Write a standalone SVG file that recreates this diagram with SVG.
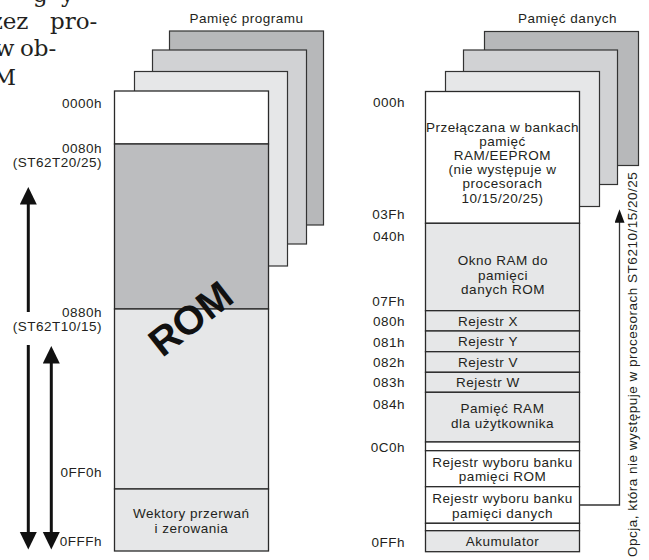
<svg xmlns="http://www.w3.org/2000/svg" width="649" height="560" viewBox="0 0 649 560">
  <style>
    .t { font-family: "Liberation Sans", Arial, sans-serif; font-size: 13.5px; letter-spacing: 0.5px; fill: #231f20; }
    .e { text-anchor: end; }
    .m { text-anchor: middle; }
    .body { font-family: "DejaVu Serif", "Liberation Serif", serif; font-size: 23px; fill: #231f20; }
    .l3 { fill: #b7b8ba; stroke: #333; stroke-width: 1.2; }
    .l2 { fill: #d1d2d4; stroke: #333; stroke-width: 1.2; }
    .l1 { fill: #e6e7e8; stroke: #333; stroke-width: 1.2; }
    .w { fill: #ffffff; stroke: #2a2a2a; stroke-width: 1.3; }
    .g { fill: #e6e7e8; stroke: #2a2a2a; stroke-width: 1.3; }
    .d { fill: #bcbdbf; stroke: #2a2a2a; stroke-width: 1.3; }
    .thick { fill: none; stroke: #111; stroke-width: 3; }
    .thin { fill: none; stroke: #333; stroke-width: 1.3; }
  </style>
  <defs>
    <marker id="bigHead" markerUnits="userSpaceOnUse" markerWidth="18" markerHeight="18" refX="1" refY="8.5" orient="auto-start-reverse">
      <path d="M0,0 L17.5,8.5 L0,17 z" fill="#111"/>
    </marker>
    <marker id="smallHead" markerUnits="userSpaceOnUse" markerWidth="14" markerHeight="11" refX="1" refY="5" orient="auto">
      <path d="M0,0 L13.5,5 L0,10 z" fill="#111"/>
    </marker>
  </defs>

  <rect width="649" height="560" fill="#ffffff"/>

  <!-- running text of the page, cut at the edge -->
  <g id="page-text">
    <text class="body" x="33" y="2">g</text>
    <text class="body" x="61" y="2">y</text>
    <text class="body e" x="28.5" y="28.5">zez</text>
    <text class="body" x="50" y="28.5">pro-</text>
    <text class="body e" x="14.5" y="56">w</text>
    <text class="body" x="20" y="56">ob-</text>
    <text class="body e" x="16" y="85">M</text>
  </g>

  <!-- program memory: stacked banks -->
  <g id="program-memory">
    <text class="t m" x="246.5" y="22.7">Pamięć programu</text>
    <rect class="l3" x="169.5" y="31" width="154" height="194"/>
    <rect class="l2" x="152.5" y="50" width="154" height="194"/>
    <rect class="l1" x="134.5" y="71.5" width="153" height="194.5"/>
    <rect class="w" x="114.5" y="91" width="154" height="53"/>
    <rect class="d" x="114.5" y="144" width="154" height="165"/>
    <rect class="g" x="114.5" y="309" width="154" height="180"/>
    <text font-family="Liberation Sans, Arial, sans-serif" font-size="40" font-weight="bold" fill="#111" text-anchor="middle" transform="translate(190.5 318.5) rotate(-38)" y="14">ROM</text>
  </g>

  <g id="vectors">
    <rect class="g" x="114.5" y="489" width="154" height="62"/>
    <text class="t m" x="191.3" y="517.7">Wektory przerwań</text>
    <text class="t m" x="191.3" y="532.7">i zerowania</text>
  </g>

  <g id="program-addresses">
    <text class="t e" x="102" y="108">0000h</text>
    <text class="t e" x="102" y="152.7">0080h</text>
    <text class="t e" x="102" y="166.5">(ST62T20/25)</text>
    <text class="t e" x="102" y="317">0880h</text>
    <text class="t e" x="102" y="331">(ST62T10/15)</text>
    <text class="t e" x="102" y="476.5">0FF0h</text>
    <text class="t e" x="102" y="546">0FFFh</text>
  </g>

  <!-- data memory: stacked banks -->
  <g id="data-memory">
    <text class="t m" x="567.5" y="22.7">Pamięć danych</text>
    <rect class="l3" x="484.5" y="31.5" width="154" height="134"/>
    <rect class="l2" x="463.5" y="50" width="154" height="134.5"/>
    <rect class="l1" x="445.5" y="71.5" width="154" height="135"/>
  </g>

  <g id="banked-ram">
    <rect class="w" x="425.5" y="91.5" width="154" height="131.8"/>
    <text class="t m" x="502.5" y="131.5">Przełączana w bankach</text>
    <text class="t m" x="502.5" y="145.7">pamięć</text>
    <text class="t m" x="502.5" y="159.9">RAM/EEPROM</text>
    <text class="t m" x="502.5" y="174.1">(nie występuje w</text>
    <text class="t m" x="502.5" y="188.3">procesorach</text>
    <text class="t m" x="502.5" y="202.5">10/15/20/25)</text>
  </g>

  <g id="rom-window">
    <rect class="g" x="425.5" y="223.3" width="154" height="87.4"/>
    <text class="t m" x="503" y="265">Okno RAM do</text>
    <text class="t m" x="503" y="279.5">pamięci</text>
    <text class="t m" x="503" y="294">danych ROM</text>
  </g>

  <g id="reg-x">
    <rect class="g" x="425.5" y="310.7" width="154" height="20.3"/>
    <text class="t m" x="488" y="325.7">Rejestr X</text>
  </g>
  <g id="reg-y">
    <rect class="g" x="425.5" y="331" width="154" height="20.7"/>
    <text class="t m" x="488" y="346.3">Rejestr Y</text>
  </g>
  <g id="reg-v">
    <rect class="g" x="425.5" y="351.7" width="154" height="20.6"/>
    <text class="t m" x="488" y="367">Rejestr V</text>
  </g>
  <g id="reg-w">
    <rect class="g" x="425.5" y="372.3" width="154" height="20"/>
    <text class="t m" x="488" y="387.3">Rejestr W</text>
  </g>

  <g id="user-ram">
    <rect class="g" x="425.5" y="392.3" width="154" height="49.7"/>
    <text class="t m" x="502.5" y="413.3">Pamięć RAM</text>
    <text class="t m" x="502.5" y="427.7">dla użytkownika</text>
  </g>

  <g id="gap-1">
    <rect class="w" x="425.5" y="442" width="154" height="8.7"/>
  </g>

  <g id="rom-bank-reg">
    <rect class="w" x="425.5" y="450.7" width="154" height="36" stroke-width="1.6"/>
    <text class="t m" x="502.5" y="466.7">Rejestr wyboru banku</text>
    <text class="t m" x="502.5" y="481">pamięci ROM</text>
  </g>

  <g id="data-bank-reg">
    <rect class="w" x="425.5" y="486.7" width="154" height="36.6"/>
    <text class="t m" x="502.5" y="502.7">Rejestr wyboru banku</text>
    <text class="t m" x="502.5" y="517.7">pamięci danych</text>
  </g>

  <g id="gap-2">
    <rect class="w" x="425.5" y="523.3" width="154" height="7.4"/>
  </g>

  <g id="accumulator">
    <rect class="g" x="425.5" y="530.7" width="154" height="21"/>
    <text class="t m" x="502.5" y="546">Akumulator</text>
  </g>

  <g id="data-addresses">
    <text class="t e" x="405" y="107.3">000h</text>
    <text class="t e" x="405" y="219">03Fh</text>
    <text class="t e" x="405" y="240.7">040h</text>
    <text class="t e" x="405" y="306">07Fh</text>
    <text class="t e" x="405" y="325.7">080h</text>
    <text class="t e" x="405" y="346.7">081h</text>
    <text class="t e" x="405" y="367.3">082h</text>
    <text class="t e" x="405" y="387.3">083h</text>
    <text class="t e" x="405" y="409.3">084h</text>
    <text class="t e" x="405" y="451.7">0C0h</text>
    <text class="t e" x="405" y="546.7">0FFh</text>
  </g>

  <g id="option-note">
    <text class="t" letter-spacing="0.2" transform="translate(637 557) rotate(-90)">Opcja, która nie występuje w procesorach ST6210/15/20/25</text>
  </g>

  <!-- range arrows and the option pointer -->
  <g id="connectors">
    <path class="thick" d="M28.3,312 L28.3,203.5" marker-end="url(#bigHead)"/>
    <path class="thick" d="M28.3,345 L28.3,533" marker-end="url(#bigHead)"/>
    <path class="thick" d="M51.3,362.5 L51.3,533" marker-start="url(#bigHead)" marker-end="url(#bigHead)"/>
    <path class="thin" d="M579.5,505 L619.5,505 L619.5,221.8" marker-end="url(#smallHead)"/>
  </g>
</svg>
